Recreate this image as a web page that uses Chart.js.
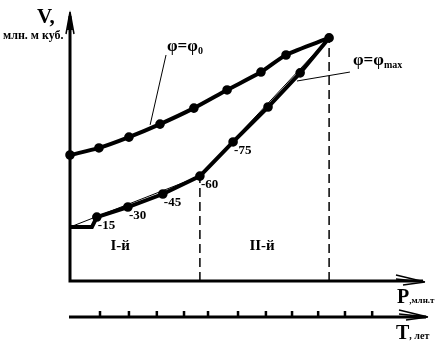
<!DOCTYPE html>
<html><head><meta charset="utf-8">
<script src="https://cdn.jsdelivr.net/npm/chart.js@4/dist/chart.umd.min.js"></script>
<style>html,body{margin:0;padding:0;background:#fff}canvas{display:block}</style>
</head><body>
<canvas id="c" width="436" height="350"></canvas>
<script>
// φ = φ0 curve (P, V)
const upperP = [0, 8.2, 16.7, 25.5, 35.1, 44.5, 54.1, 61.2, 73.4];
const upperV = [46.5, 49.1, 53.1, 57.9, 63.8, 70.5, 77.1, 83.4, 89.7];
// φ = φmax curve (P, V)
const lowerP = [0, 6.2, 7.6, 16.4, 26.3, 36.8, 46.2, 56.1, 65.2, 73.4];
const lowerV = [19.9, 19.9, 23.6, 27.3, 32.1, 38.7, 51.3, 64.2, 76.8, 89.7];
const lowerTags = ['', '', '-15', '-30', '-45', '-60', '-75', '', '', ''];
const lowerDots = [false, false, true, true, true, true, true, true, true, false];
// stage boundaries (index into lower curve) and names
const stageIdx = [5, 9];
const stageNames = ['I-й', 'II-й'];
const stageNameP = [14.2, 54.4];
// T (years) axis tick positions on P scale
const tTicks = [8.5, 16.7, 24.6, 32.3, 39.1, 47.6, 55.5, 62.9, 70.3, 77.9, 85.6];

const pts = (xs, ys) => xs.map((x, i) => ({x, y: ys[i]}));
const seg = (i, j) => [{x: lowerP[i], y: lowerV[i]}, {x: lowerP[j], y: lowerV[j]}];

const SERIF = '"Liberation Serif", "DejaVu Serif", serif';

const datasets = [
  {data: pts(upperP, upperV), borderColor: '#000', backgroundColor: '#000', borderWidth: 4,
   pointRadius: 2.8, tension: 0.25},
  {data: pts(lowerP, lowerV), borderColor: '#000', backgroundColor: '#000', borderWidth: 4,
   pointRadius: lowerDots.map(d => d ? 2.8 : 0), tension: 0},
  {data: seg(0, stageIdx[0]), borderColor: '#000', borderWidth: 1, pointRadius: 0},
  {data: seg(stageIdx[0], stageIdx[1]), borderColor: '#000', borderWidth: 1, pointRadius: 0},
];
stageIdx.forEach(i => datasets.push({
  data: [{x: lowerP[i], y: 0}, {x: lowerP[i], y: lowerV[i]}],
  borderColor: '#000', borderWidth: 1.5, borderDash: [9, 5], pointRadius: 0
}));
datasets.forEach(d => { d.showLine = true; d.clip = false; d.fill = false; });

const deco = {
  id: 'deco',
  afterDatasetsDraw(chart) {
    const {ctx, scales: {x, y}, chartArea: a} = chart;
    const X = v => x.getPixelForValue(v), Y = v => y.getPixelForValue(v);
    ctx.save();
    ctx.strokeStyle = '#000'; ctx.fillStyle = '#000';
    // leader lines
    ctx.lineWidth = 1;
    ctx.beginPath();
    ctx.moveTo(X(22.7), Y(57.6)); ctx.lineTo(X(27.2), Y(83.4));
    ctx.moveTo(X(64.3), Y(73.8)); ctx.lineTo(X(79.3), Y(77.1));
    ctx.stroke();
    // axes
    ctx.lineWidth = 3; ctx.lineCap = 'butt';
    ctx.beginPath();
    ctx.moveTo(a.left, a.bottom + 1.5); ctx.lineTo(a.left, a.top + 6);
    ctx.moveTo(a.left - 1.5, a.bottom); ctx.lineTo(a.right, a.bottom);
    ctx.stroke();
    // y arrow
    ctx.beginPath();
    ctx.moveTo(a.left, a.top); ctx.lineTo(a.left - 3, a.top + 20); ctx.lineTo(a.left + 3, a.top + 20); ctx.closePath();
    ctx.fill();
    ctx.lineWidth = 1.5;
    ctx.beginPath();
    ctx.moveTo(a.left, a.top + 2); ctx.lineTo(a.left - 4, a.top + 24);
    ctx.moveTo(a.left, a.top + 2); ctx.lineTo(a.left + 4, a.top + 24);
    ctx.stroke();
    const hArrow = (tx, ty) => {
      ctx.lineWidth = 1.6;
      ctx.beginPath();
      ctx.moveTo(tx, ty); ctx.lineTo(tx - 29, ty - 7);
      ctx.moveTo(tx, ty); ctx.lineTo(tx - 29, ty - 3);
      ctx.moveTo(tx, ty); ctx.lineTo(tx - 22, ty + 3);
      ctx.stroke();
    };
    hArrow(a.right + 2, a.bottom + 1);
    // T axis
    const ty = a.bottom + 36;
    ctx.lineWidth = 3;
    ctx.beginPath(); ctx.moveTo(a.left - 1, ty); ctx.lineTo(a.right + 3, ty); ctx.stroke();
    ctx.lineWidth = 2.5;
    ctx.beginPath();
    tTicks.forEach(t => { ctx.moveTo(X(t), ty - 6); ctx.lineTo(X(t), ty); });
    ctx.stroke();
    hArrow(a.right + 5, ty);

    // texts
    ctx.textBaseline = 'alphabetic';
    ctx.textAlign = 'left';
    ctx.font = 'bold 21px ' + SERIF;
    ctx.fillText('V,', 37, 23);
    ctx.font = 'bold 12px ' + SERIF;
    ctx.fillText('млн. м куб.', 3, 39);
    ctx.font = 'bold 20px ' + SERIF;
    ctx.fillText('P', 397, 303);
    let w = ctx.measureText('P').width;
    ctx.font = 'bold 9px ' + SERIF;
    ctx.fillText(',млн.т', 397 + w, 303);
    ctx.font = 'bold 20px ' + SERIF;
    ctx.fillText('T', 396, 339);
    w = ctx.measureText('T').width;
    ctx.font = 'bold 10px ' + SERIF;
    ctx.fillText(', лет', 396 + w, 339);

    const phi = (txt, sub, px, py) => {
      ctx.font = 'bold 17px ' + SERIF;
      ctx.fillText(txt, px, py);
      const ww = ctx.measureText(txt).width;
      ctx.font = 'bold 10px ' + SERIF;
      ctx.fillText(sub, px + ww, py + 3);
    };
    phi('φ=φ', '0', 167, 51);
    phi('φ=φ', 'max', 353, 65);

    ctx.font = 'bold 15px ' + SERIF;
    ctx.textAlign = 'center';
    stageNames.forEach((s, i) => ctx.fillText(s, X(stageNameP[i]), Y(11.4)));
    ctx.textAlign = 'left';
    ctx.font = 'bold 13px ' + SERIF;
    lowerTags.forEach((t, i) => {
      if (!t) return;
      ctx.fillText(t, X(lowerP[i]) + 1, Y(lowerV[i]) + 12);
    });
    ctx.restore();
  }
};

new Chart(document.getElementById('c'), {
  type: 'scatter',
  data: {datasets},
  options: {
    responsive: false, animation: false, devicePixelRatio: 1,
    layout: {padding: {left: 70, right: 13, top: 10, bottom: 69}},
    plugins: {legend: {display: false}, tooltip: {enabled: false}},
    scales: {
      x: {type: 'linear', min: 0, max: 100, display: false},
      y: {type: 'linear', min: 0, max: 100, display: false}
    }
  },
  plugins: [deco]
});
</script>
</body></html>
